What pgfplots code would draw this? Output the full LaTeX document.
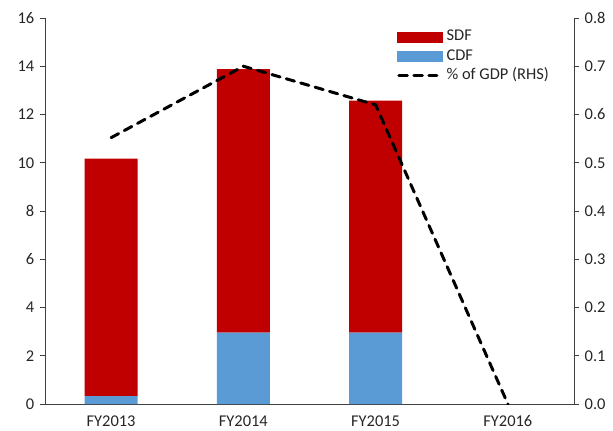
\documentclass[border=0pt]{standalone}
\usepackage{pgfplots}
\pgfplotsset{compat=1.18}
\usepackage{fontspec}
\setmainfont{Carlito}
\definecolor{cred}{HTML}{C00000}
\definecolor{cblue}{HTML}{5B9BD5}
\definecolor{ctext}{HTML}{262626}
\begin{document}
\fontsize{16.5}{19}\selectfont
\begin{tikzpicture}
\pgfplotsset{
  every axis/.append style={
    width=529bp, height=386bp, scale only axis,
    xmin=-0.5, xmax=3.5,
    /pgf/number format/assume math mode=true,
    tick label style={font=\fontsize{16.5}{19}\selectfont, text=ctext},
    axis line style={-, black!75, line width=0.9bp},
    tick style={black!75, line width=0.9bp},
  }
}
\begin{axis}[
  name=ax,
  axis x line*=bottom, axis y line*=left,
  ymin=0, ymax=16, ytick={0,2,...,16},
  xtick={0,1,2,3}, xticklabels={FY2013,FY2014,FY2015,FY2016},
  major x tick style={draw=none},
  extra x ticks={0.5,1.5,2.5,3.5}, extra x tick labels={},
  extra x tick style={tick align=outside, major tick length=6bp, tick style={black!75, line width=0.9bp}},
  tick align=outside, major tick length=5bp,
  ybar stacked, bar width=0.4,
  xticklabel style={yshift=-1bp},
]
\addplot[fill=cblue, draw=none] coordinates {(0,0.33) (1,2.96) (2,2.96)};
\addplot[fill=cred, draw=none] coordinates {(0,9.84) (1,10.92) (2,9.61)};
\end{axis}
\begin{axis}[
  axis x line=none, axis y line*=right,
  ymin=0, ymax=0.8, ytick={0,0.1,...,0.8},
  yticklabel style={/pgf/number format/.cd, fixed, fixed zerofill, precision=1},
  tick align=outside, major tick length=5bp,
  legend style={at={(0.6654,0.971)}, anchor=north west, draw=none, fill=none,
    inner sep=0pt, row sep=3.5bp, column sep=4bp, font=\fontsize{16.5}{19}\selectfont, text=ctext,
    nodes={inner sep=0pt, text height=11.5bp, text depth=4.5bp}},
  legend cell align=left,
]
\addlegendimage{legend image code/.code={\fill[cred] (0bp,-4.5bp) rectangle (45bp,5.5bp);}}
\addlegendentry{SDF}
\addlegendimage{legend image code/.code={\fill[cblue] (0bp,-4.5bp) rectangle (45bp,5.5bp);}}
\addlegendentry{CDF}
\addplot[black, line width=3bp, line cap=round, dash pattern=on 8.5bp off 6.5bp,
  legend image code/.code={\draw (1.5bp,0.5bp) -- (39.5bp,0.5bp);}]
  coordinates {(0,0.552) (1,0.70) (2,0.62) (3,0)};
\addlegendentry{\% of GDP (RHS)}
\end{axis}
\pgfresetboundingbox
\path[use as bounding box] ([shift={(-45bp,-27bp)}]ax.south west) rectangle ([shift={(39bp,18bp)}]ax.north east);
\end{tikzpicture}
\end{document}
